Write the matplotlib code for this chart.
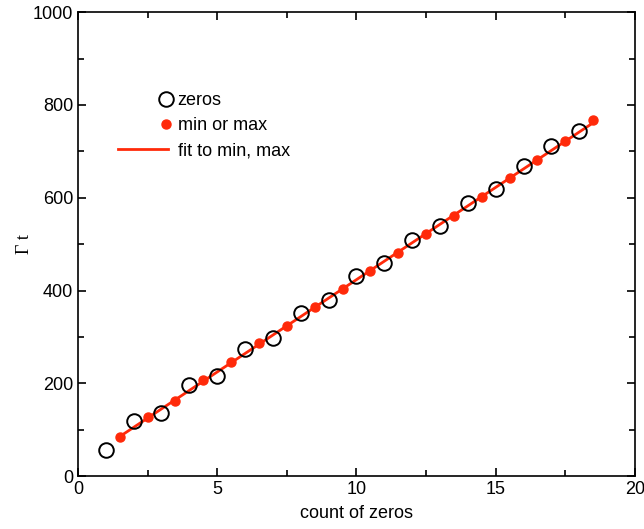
import numpy as np
import matplotlib
matplotlib.use("Agg")
from matplotlib import pyplot as plt
from matplotlib.legend_handler import HandlerLine2D

# data
zeros_x = [1, 2, 3, 4, 5, 6, 7, 8, 9, 10, 11, 12, 13, 14, 15, 16, 17, 18]
zeros_y = [56, 118, 136, 196, 216, 274, 297, 351, 379, 431,
           459, 509, 539, 588, 619, 668, 711, 743]

minmax_x = [1.5, 2.5, 3.5, 4.5, 5.5, 6.5, 7.5, 8.5, 9.5, 10.5,
            11.5, 12.5, 13.5, 14.5, 15.5, 16.5, 17.5, 18.5]
minmax_y = [84, 127, 162, 207, 246, 287, 323, 364, 403, 442,
            481, 522, 560, 601, 642, 681, 722, 767]

x_ticks = [0, 5, 10, 15, 20]
y_ticks = [0, 200, 400, 600, 800, 1000]

RED = "#ff2a0a"


class RightMarker(HandlerLine2D):
    # put the single legend marker at the right end of the handle
    def get_xdata(self, legend, xdescent, ydescent, width, height, fontsize):
        x = [-xdescent + 0.97 * width]
        return x, x


plt.rcParams["font.family"] = ["Liberation Sans", "DejaVu Sans"]

fig = plt.figure(figsize=(6.44, 5.29), dpi=100)
ax = fig.add_axes([0.121, 0.100, 0.865, 0.877])

# linear fit to the min/max points
coef = np.polyfit(minmax_x, minmax_y, 1)
fit_x = np.array([minmax_x[0], minmax_x[-1]])
fit_y = np.polyval(coef, fit_x)

ax.plot(zeros_x, zeros_y, linestyle="none", marker="o", markersize=10.5,
        markerfacecolor="none", markeredgecolor="black", markeredgewidth=1.4,
        label="zeros", zorder=3)
ax.plot(minmax_x, minmax_y, linestyle="none", marker="o", markersize=6.5,
        color=RED, label="min or max", zorder=4)
ax.plot(fit_x, fit_y, color=RED, linewidth=2.0, label="fit to min, max", zorder=2)

ax.set_xlim(0, 20)
ax.set_ylim(0, 1000)
ax.set_xticks(x_ticks)
ax.set_yticks(y_ticks)
ax.set_xticks(np.arange(2.5, 20, 5), minor=True)
ax.set_yticks(np.arange(100, 1000, 200), minor=True)
ax.tick_params(which="both", direction="in", top=True, right=True,
               labelsize=13, width=1.2)
ax.tick_params(which="major", length=6)
ax.tick_params(which="minor", length=4)
for s in ax.spines.values():
    s.set_linewidth(1.2)

ax.set_xlabel("count of zeros", fontsize=13, labelpad=5)
ax.set_ylabel("Γ t", fontsize=13, family=["Liberation Serif", "DejaVu Serif"],
              labelpad=0)

handles, labels = ax.get_legend_handles_labels()
leg = ax.legend(handles, labels, loc="upper left", bbox_to_anchor=(0.059, 0.843),
                frameon=False, fontsize=13, handlelength=2.75, handletextpad=0.55,
                labelspacing=0.45, numpoints=1, borderaxespad=0,
                handler_map={h: RightMarker() for h in handles[:2]})

fig.savefig("out.png", dpi=100)
